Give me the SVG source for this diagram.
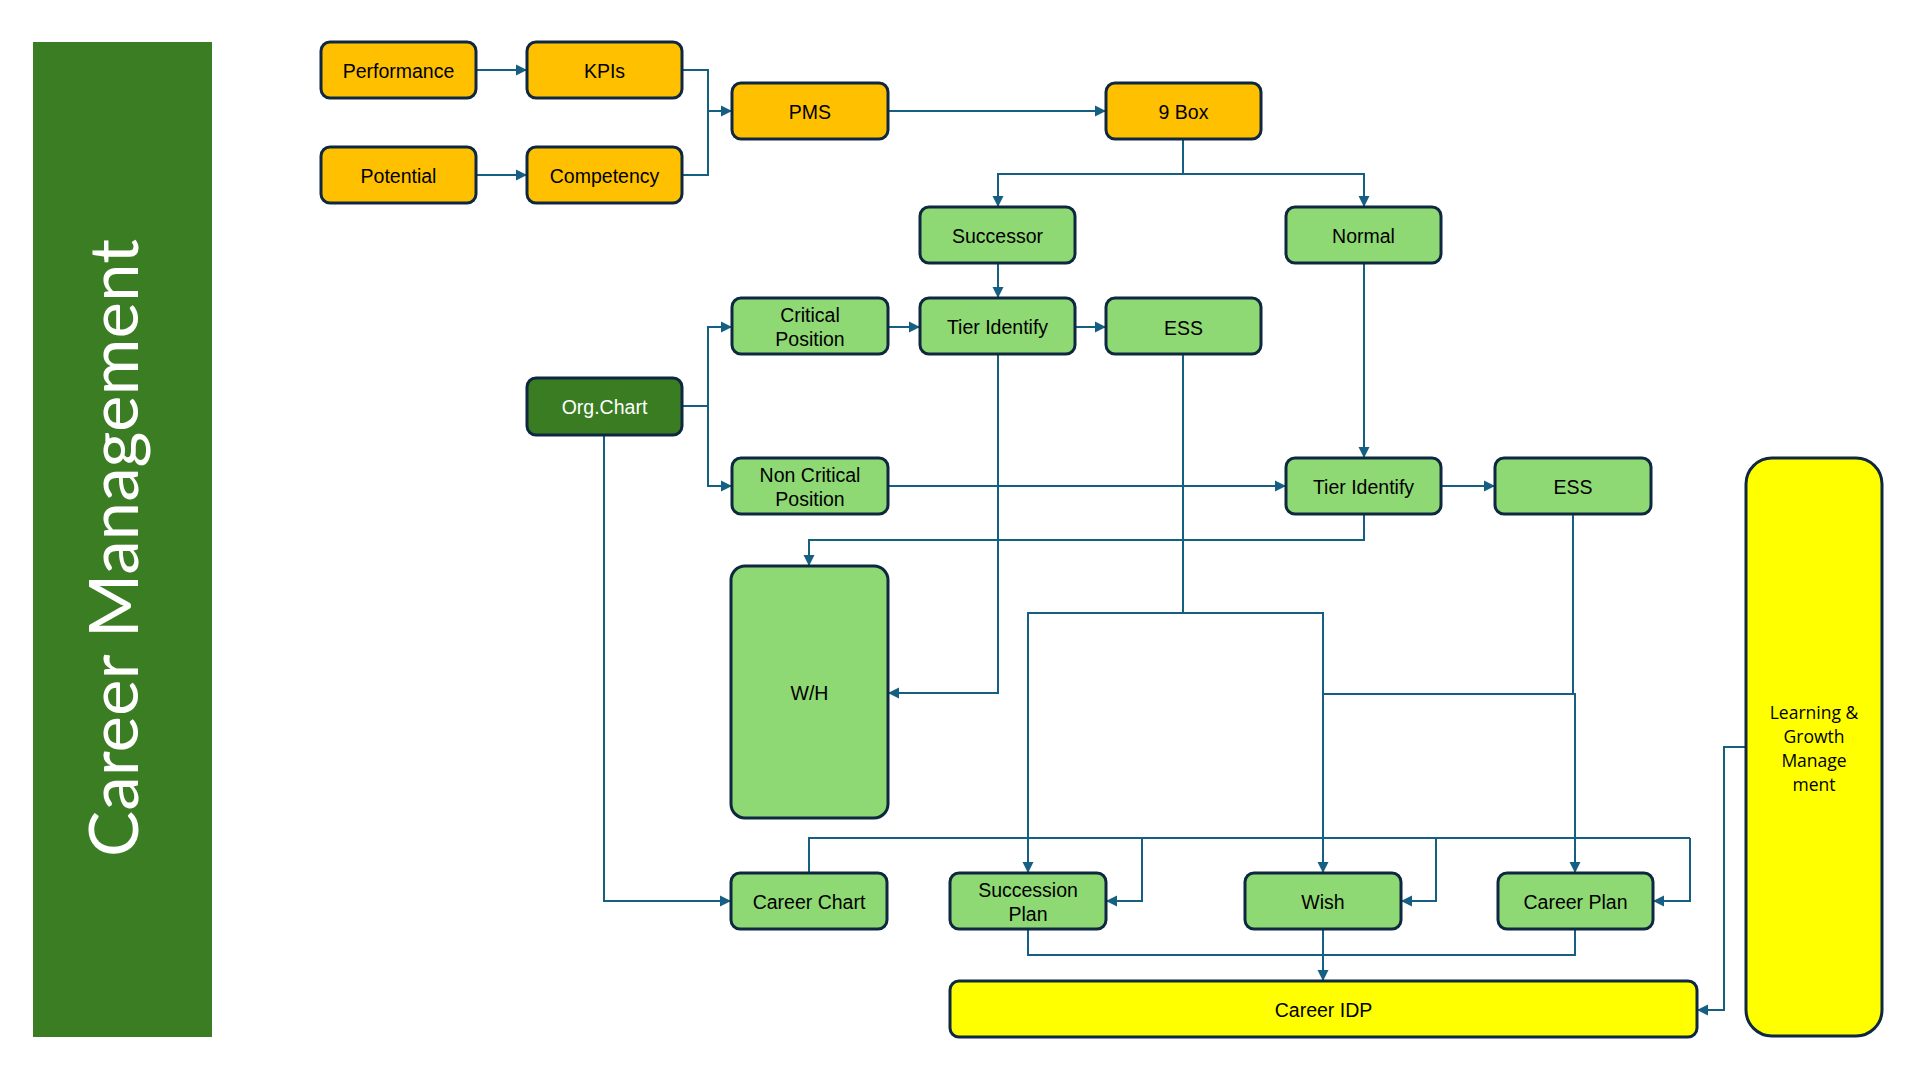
<svg xmlns="http://www.w3.org/2000/svg" width="1920" height="1068" viewBox="0 0 1920 1068">
<style>
.box{stroke:#0E2841;stroke-width:3}
.or{fill:#FFC000}
.gr{fill:#8ED973}
.dg{fill:#3A7C22}
.ye{fill:#FFFF00}
.t{font-family:"Liberation Sans",Arial,sans-serif;font-size:19.5px;fill:#000;text-anchor:middle;dominant-baseline:central}
.tw{fill:#fff}
.lg{font-family:"Open Sans","Noto Sans",sans-serif;font-size:17.5px;fill:#000;text-anchor:middle}
.c{fill:none;stroke:#156082;stroke-width:2}
.a{marker-end:url(#arr)}
</style>
<defs>
<marker id="arr" markerUnits="userSpaceOnUse" markerWidth="12" markerHeight="12" refX="11" refY="6" orient="auto">
<path d="M0,0.5 L11,6 L0,11.5 z" fill="#156082"/>
</marker>
</defs>
<rect width="1920" height="1068" fill="#fff"/>
<g id="title">
<rect x="33" y="42" width="179" height="995" fill="#3B7D23"/>
<text transform="translate(138,548) rotate(-90)" x="0" y="0" font-family="Lato,'Open Sans',sans-serif" font-weight="400" font-size="68" fill="#fff" text-anchor="middle" textLength="618" lengthAdjust="spacingAndGlyphs">Career Management</text>
</g>
<g id="connectors">
<path class="c a" d="M476,70 H527"/>
<path class="c a" d="M476,175 H527"/>
<path class="c" d="M682,70 H708 V175 H682"/>
<path class="c a" d="M708,111 H732"/>
<path class="c a" d="M888,111 H1106"/>
<path class="c" d="M1183,140 V174"/>
<path class="c a" d="M1183,174 H998 V207"/>
<path class="c a" d="M1183,174 H1364 V207"/>
<path class="c a" d="M998,263 V298"/>
<path class="c a" d="M888,327 H920"/>
<path class="c a" d="M1075,327 H1106"/>
<path class="c" d="M682,406 H708"/>
<path class="c a" d="M708,406 V327 H732"/>
<path class="c a" d="M708,406 V486 H732"/>
<path class="c a" d="M888,486 H1286"/>
<path class="c a" d="M1364,263 V458"/>
<path class="c a" d="M1441,486 H1495"/>
<path class="c a" d="M1364,514 V540 H809 V566"/>
<path class="c a" d="M998,354 V693 H888"/>
<path class="c" d="M1183,354 V613"/>
<path class="c a" d="M1183,613 H1028 V873"/>
<path class="c a" d="M1183,613 H1323 V873"/>
<path class="c" d="M1573,514 V694 H1323"/>
<path class="c a" d="M1573,694 H1575 V873"/>
<path class="c" d="M809,873 V838 H1690"/>
<path class="c a" d="M1142,838 V901 H1106"/>
<path class="c a" d="M1436,838 V901 H1401"/>
<path class="c a" d="M1690,838 V901 H1653"/>
<path class="c a" d="M604,435 V901 H731"/>
<path class="c" d="M1028,929 V955 H1575 V929"/>
<path class="c a" d="M1323,929 V981"/>
<path class="c a" d="M1746,747 H1724 V1010 H1697"/>
</g>
<g id="performance"><rect class="box or" x="321" y="42" width="155" height="56" rx="9"/><text class="t" x="398.5" y="71">Performance</text></g>
<g id="kpis"><rect class="box or" x="527" y="42" width="155" height="56" rx="9"/><text class="t" x="604.5" y="71">KPIs</text></g>
<g id="potential"><rect class="box or" x="321" y="147" width="155" height="56" rx="9"/><text class="t" x="398.5" y="176">Potential</text></g>
<g id="competency"><rect class="box or" x="527" y="147" width="155" height="56" rx="9"/><text class="t" x="604.5" y="176">Competency</text></g>
<g id="pms"><rect class="box or" x="732" y="83" width="156" height="56" rx="9"/><text class="t" x="810" y="112">PMS</text></g>
<g id="ninebox"><rect class="box or" x="1106" y="83" width="155" height="56" rx="9"/><text class="t" x="1183.5" y="112">9 Box</text></g>
<g id="successor"><rect class="box gr" x="920" y="207" width="155" height="56" rx="9"/><text class="t" x="997.5" y="236">Successor</text></g>
<g id="normal"><rect class="box gr" x="1286" y="207" width="155" height="56" rx="9"/><text class="t" x="1363.5" y="236">Normal</text></g>
<g id="critical"><rect class="box gr" x="732" y="298" width="156" height="56" rx="9"/><text class="t" x="810" y="315">Critical</text><text class="t" x="810" y="339">Position</text></g>
<g id="tier1"><rect class="box gr" x="920" y="298" width="155" height="56" rx="9"/><text class="t" x="997.5" y="327">Tier Identify</text></g>
<g id="ess1"><rect class="box gr" x="1106" y="298" width="155" height="56" rx="9"/><text class="t" x="1183.5" y="328">ESS</text></g>
<g id="orgchart"><rect class="box dg" x="527" y="378" width="155" height="57" rx="9"/><text class="t tw" x="604.5" y="407">Org.Chart</text></g>
<g id="noncritical"><rect class="box gr" x="732" y="458" width="156" height="56" rx="9"/><text class="t" x="810" y="475">Non Critical</text><text class="t" x="810" y="499">Position</text></g>
<g id="tier2"><rect class="box gr" x="1286" y="458" width="155" height="56" rx="9"/><text class="t" x="1363.5" y="487">Tier Identify</text></g>
<g id="ess2"><rect class="box gr" x="1495" y="458" width="156" height="56" rx="9"/><text class="t" x="1573" y="487">ESS</text></g>
<g id="wh"><rect class="box gr" x="731" y="566" width="157" height="252" rx="14"/><text class="t" x="809.5" y="693">W/H</text></g>
<g id="careerchart"><rect class="box gr" x="731" y="873" width="156" height="56" rx="9"/><text class="t" x="809" y="902">Career Chart</text></g>
<g id="successionplan"><rect class="box gr" x="950" y="873" width="156" height="56" rx="9"/><text class="t" x="1028" y="890">Succession</text><text class="t" x="1028" y="914">Plan</text></g>
<g id="wish"><rect class="box gr" x="1245" y="873" width="156" height="56" rx="9"/><text class="t" x="1323" y="902">Wish</text></g>
<g id="careerplan"><rect class="box gr" x="1498" y="873" width="155" height="56" rx="9"/><text class="t" x="1575.5" y="902">Career Plan</text></g>
<g id="careeridp"><rect class="box ye" x="950" y="981" width="747" height="56" rx="9"/><text class="t" x="1323.5" y="1010">Career IDP</text></g>
<g id="learning"><rect class="box ye" x="1746" y="458" width="136" height="578" rx="26"/>
<text class="lg" x="1814" y="719">Learning &amp;</text>
<text class="lg" x="1814" y="743">Growth</text>
<text class="lg" x="1814" y="767">Manage</text>
<text class="lg" x="1814" y="791">ment</text></g>
</svg>
